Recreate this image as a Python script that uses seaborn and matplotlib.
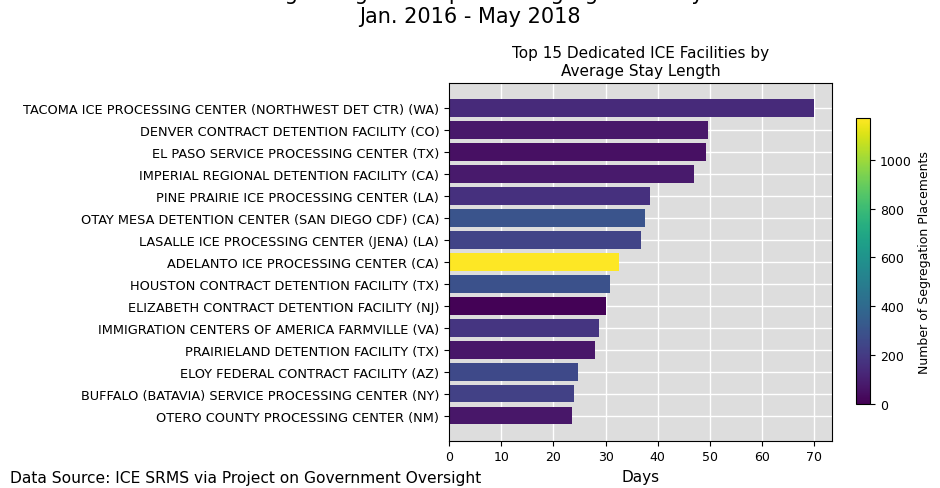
import matplotlib
matplotlib.use("Agg")
import matplotlib as mpl
import matplotlib.pyplot as plt
import seaborn as sns
import pandas as pd

facilities = [
    "TACOMA ICE PROCESSING CENTER (NORTHWEST DET CTR) (WA)",
    "DENVER CONTRACT DETENTION FACILITY (CO)",
    "EL PASO SERVICE PROCESSING CENTER (TX)",
    "IMPERIAL REGIONAL DETENTION FACILITY (CA)",
    "PINE PRAIRIE ICE PROCESSING CENTER (LA)",
    "OTAY MESA DETENTION CENTER (SAN DIEGO CDF) (CA)",
    "LASALLE ICE PROCESSING CENTER (JENA) (LA)",
    "ADELANTO ICE PROCESSING CENTER (CA)",
    "HOUSTON CONTRACT DETENTION FACILITY (TX)",
    "ELIZABETH CONTRACT DETENTION FACILITY (NJ)",
    "IMMIGRATION CENTERS OF AMERICA FARMVILLE (VA)",
    "PRAIRIELAND DETENTION FACILITY (TX)",
    "ELOY FEDERAL CONTRACT FACILITY (AZ)",
    "BUFFALO (BATAVIA) SERVICE PROCESSING CENTER (NY)",
    "OTERO COUNTY PROCESSING CENTER (NM)",
]
avg_days = [69.9, 49.6, 49.2, 47.0, 38.5, 37.5, 36.8, 32.6, 30.8, 30.0,
            28.8, 27.9, 24.7, 24.0, 23.5]
placements = [140, 76, 47, 82, 164, 304, 234, 1170, 292, 6,
              181, 70, 257, 228, 70]

df = pd.DataFrame({"facility": facilities, "days": avg_days,
                   "placements": placements})

cmap = mpl.colormaps["viridis"]
norm = mpl.colors.Normalize(vmin=0, vmax=max(placements))
palette = {f: cmap(norm(p)) for f, p in zip(facilities, placements)}

fig = plt.figure(figsize=(9.4, 4.89), dpi=100)
ax = fig.add_axes([0.4777, 0.0967, 0.4074, 0.7315])
ax.set_facecolor("#dddddd")
ax.set_axisbelow(True)

sns.barplot(data=df, x="days", y="facility", hue="facility", palette=palette,
            legend=False, saturation=1, width=0.8, orient="h", ax=ax)

ax.grid(True, which="major", axis="both", color="white", linewidth=1)

n = len(facilities)
pad = 0.05 * (n - 1 + 0.8)
ax.set_ylim(n - 1 + 0.4 + pad, -0.4 - pad)
ax.set_xlim(0, max(avg_days) * 1.05)
ax.set_xticks(range(0, 71, 10))
ax.set_ylabel("")
ax.set_xlabel("Days", fontsize=11)
ax.tick_params(axis="y", labelsize=9.3)
ax.tick_params(axis="x", labelsize=9)
ax.set_title("Top 15 Dedicated ICE Facilities by\nAverage Stay Length", fontsize=11)
for s in ax.spines.values():
    s.set_visible(True)
    s.set_color("black")

cax = fig.add_axes([0.9106, 0.1718, 0.0154, 0.5843])
sm = mpl.cm.ScalarMappable(norm=norm, cmap=cmap)
cb = fig.colorbar(sm, cax=cax)
cb.set_label("Number of Segregation Placements", fontsize=9)
cb.ax.tick_params(labelsize=9)

fig.suptitle("Average Length of Reported Segregation Stays\nJan. 2016 - May 2018",
             fontsize=15, y=0.944, va="bottom")
fig.text(0.011, 0.0123, "Data Source: ICE SRMS via Project on Government Oversight",
         fontsize=11.2, va="baseline")

fig.savefig("out.png", dpi=100)
